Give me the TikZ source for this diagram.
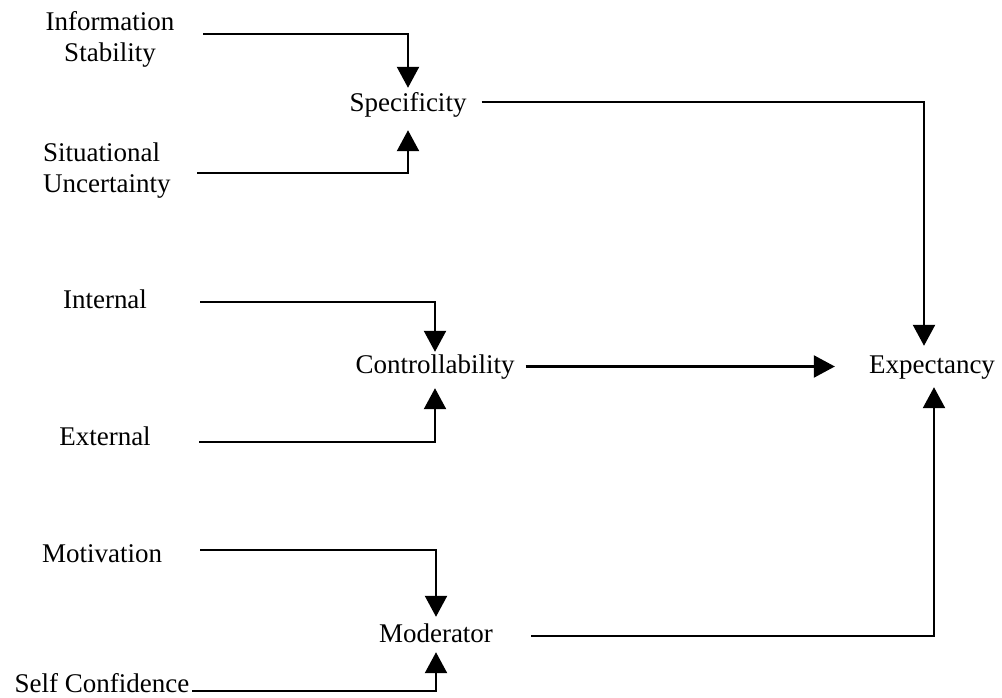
\documentclass[tikz,border=0pt]{standalone}
\usepackage{fontspec}
\setmainfont{Liberation Serif}
\usetikzlibrary{arrows.meta}
\begin{document}
\begin{tikzpicture}[x=1pt,y=-1pt,
  lbl/.style={inner sep=0pt, anchor=base, text height=18pt, text depth=5pt},
  conn/.style={line width=2.3pt, line cap=butt},
  arr/.style={conn, -{Triangle[length=21pt,width=22pt]}},
  font=\fontsize{27pt}{31pt}\selectfont]
\useasboundingbox (0,0) rectangle (1002,698);

% labels of the source factors
\node[lbl] (info1) at (110,31) {Information};
\node[lbl] (info2) at (110,62) {Stability};
\node[lbl, anchor=base west] (sit1) at (43,162) {Situational};
\node[lbl, anchor=base west] (sit2) at (43,193) {Uncertainty};
\node[lbl] (intl) at (105,308) {Internal};
\node[lbl] (extl) at (105,445) {External};
\node[lbl] (motv) at (102,562) {Motivation};
\node[lbl, text depth=0pt] (self) at (102,692) {Self Confidence};

% intermediate and outcome nodes
\node[lbl] (spec) at (408,112) {Specificity};
\node[lbl] (ctrl) at (435,373) {Controllability};
\node[lbl] (mod)  at (436,642) {Moderator};
\node[lbl] (expc) at (932,373) {Expectancy};

% free ends and bends of the connectors
\coordinate (infoOut) at (203,34);
\coordinate (sitOut)  at (197,173);
\coordinate (intOut)  at (200,302);
\coordinate (extOut)  at (199,442);
\coordinate (motOut)  at (200,550);
\coordinate (selfOut) at (192,691);
\coordinate (specTurn) at (924,102);
\coordinate (modTurn)  at (934,636);

% inputs into the intermediate nodes
\draw[arr, shorten >=6pt]  (infoOut) -| (spec.north);
\draw[arr, shorten >=13pt] (sitOut)  -| (spec.south);
\draw[arr, shorten >=3pt]  (intOut)  -| (ctrl.north);
\draw[arr, shorten >=10pt] (extOut)  -| (ctrl.south);
\draw[arr, shorten >=7pt]  (motOut)  -| (mod.north);
\draw[arr, shorten >=5pt]  (selfOut) -| (mod.south);

% paths into Expectancy
\draw[arr, shorten <=15pt, shorten >=9pt]
  (spec.east |- specTurn) -- (specTurn) -- (specTurn |- expc.north);
\draw[arr, shorten <=11pt, shorten >=34pt]
  (ctrl.east) -- (ctrl.east -| expc.west);
\draw[arr, shorten <=38pt, shorten >=9pt]
  (mod.east |- modTurn) -- (modTurn) -- (modTurn |- expc.south);
\end{tikzpicture}
\end{document}
